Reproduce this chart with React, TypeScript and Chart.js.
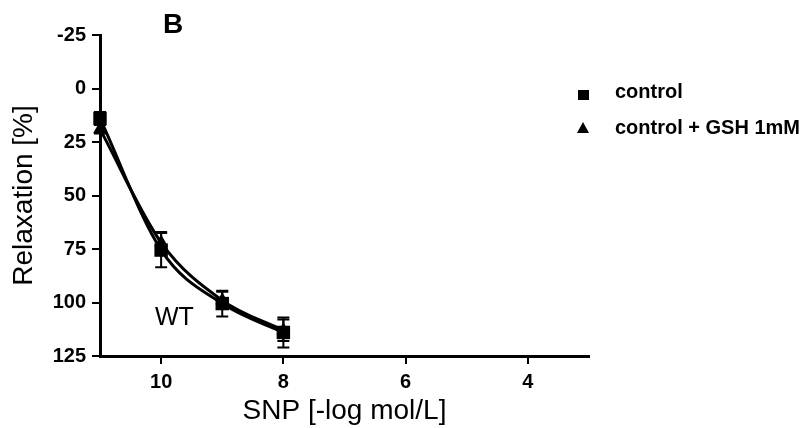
import React, { useEffect, useRef } from "react";
import { Chart, registerables } from "chart.js";

Chart.register(...registerables);

// ---- data ----
const doses = [11, 10, 9, 8];
const controlValues = [14, 75.5, 100.5, 114];
const controlErrors = [3, 8, 6, 7];
const gshValues = [19, 72, 99, 113];
const gshErrors = [2, 5, 4, 5];
const xTicks = [10, 8, 6, 4];
const yTicks = [-25, 0, 25, 50, 75, 100, 125];
const seriesLabels = ["control", "control + GSH 1mM"];
const panelLabel = "B";
const genotypeLabel = "WT";
const xTitle = "SNP [-log mol/L]";
const yTitle = "Relaxation [%]";

const FONT = "'Liberation Sans', Arial, sans-serif";

const errorBarPlugin = {
  id: "errorBars",
  afterDatasetsDraw(chart: any) {
    const ctx = chart.ctx;
    const xs = chart.scales.x;
    const ys = chart.scales.y;
    const list = [...chart.data.datasets].reverse();
    list.forEach((d: any) => {
      const errs = d.errors as number[] | undefined;
      if (!errs) return;
      ctx.save();
      ctx.strokeStyle = "#000";
      ctx.lineWidth = 2;
      d.data.forEach((p: any, j: number) => {
        const x = xs.getPixelForValue(p.x);
        const y1 = ys.getPixelForValue(p.y - errs[j]);
        const y2 = ys.getPixelForValue(p.y + errs[j]);
        ctx.beginPath();
        ctx.moveTo(x, y1);
        ctx.lineTo(x, y2);
        ctx.moveTo(x - 6, y1);
        ctx.lineTo(x + 6, y1);
        ctx.moveTo(x - 6, y2);
        ctx.lineTo(x + 6, y2);
        ctx.stroke();
      });
      ctx.restore();
    });
  },
};

const annotationPlugin = {
  id: "annotations",
  afterDraw(chart: any) {
    const ctx = chart.ctx;
    ctx.save();
    ctx.fillStyle = "#000";
    ctx.textBaseline = "alphabetic";
    ctx.textAlign = "left";
    // panel label
    ctx.font = `bold 28px ${FONT}`;
    ctx.fillText(panelLabel, 163, 33);
    // genotype label
    ctx.font = `25px ${FONT}`;
    ctx.fillText(genotypeLabel, 155, 325);
    // legend
    ctx.font = `bold 20px ${FONT}`;
    ctx.fillRect(578, 90, 11, 10);
    ctx.fillText(seriesLabels[0], 615, 98);
    ctx.beginPath();
    ctx.moveTo(583, 122);
    ctx.lineTo(589, 133);
    ctx.lineTo(577, 133);
    ctx.closePath();
    ctx.fill();
    ctx.fillText(seriesLabels[1], 615, 134);
    ctx.restore();
  },
};

export default function App() {
  const ref = useRef<HTMLCanvasElement | null>(null);

  useEffect(() => {
    if (!ref.current) return;
    const chart = new Chart(ref.current, {
      type: "scatter",
      data: {
        datasets: [
          {
            label: seriesLabels[0],
            data: doses.map((x, i) => ({ x, y: controlValues[i] })),
            errors: controlErrors,
            showLine: true,
            cubicInterpolationMode: "monotone",
            borderColor: "#000",
            borderWidth: 3,
            backgroundColor: "#000",
            pointStyle: "rect",
            pointRadius: 9.5,
            pointBorderWidth: 0,
            clip: false,
          } as any,
          {
            label: seriesLabels[1],
            data: doses.map((x, i) => ({ x, y: gshValues[i] })),
            errors: gshErrors,
            showLine: true,
            cubicInterpolationMode: "monotone",
            borderColor: "#000",
            borderWidth: 3,
            backgroundColor: "#000",
            pointStyle: "triangle",
            pointRadius: 8,
            pointBorderWidth: 0,
            clip: false,
          } as any,
        ],
      },
      options: {
        responsive: false,
        animation: false,
        layout: { padding: { top: 35, right: 223, left: 0, bottom: 0 } },
        plugins: {
          legend: { display: false },
          tooltip: { enabled: false },
        },
        scales: {
          x: {
            type: "linear",
            min: 3,
            max: 11,
            reverse: true,
            afterBuildTicks: (s: any) => {
              s.ticks = xTicks.map((v) => ({ value: v }));
            },
            afterFit: (s: any) => {
              s.height = 72;
            },
            border: { display: true, color: "#000", width: 3 },
            grid: {
              display: true,
              drawOnChartArea: false,
              drawTicks: true,
              tickLength: 8,
              color: "#000",
              lineWidth: 2,
            },
            ticks: {
              color: "#000",
              font: { family: FONT, size: 20, weight: "bold" },
              padding: 6,
              maxRotation: 0,
            },
            title: {
              display: true,
              text: xTitle,
              color: "#000",
              font: { family: FONT, size: 28 },
              padding: { top: 0, bottom: 0 },
            },
          },
          y: {
            type: "linear",
            min: -25,
            max: 125,
            reverse: true,
            afterBuildTicks: (s: any) => {
              s.ticks = yTicks.map((v) => ({ value: v }));
            },
            afterFit: (s: any) => {
              s.width = 100;
            },
            border: { display: true, color: "#000", width: 3 },
            grid: {
              display: true,
              drawOnChartArea: false,
              drawTicks: true,
              tickLength: 8,
              color: "#000",
              lineWidth: 2,
            },
            ticks: {
              color: "#000",
              font: { family: FONT, size: 20, weight: "bold" },
              padding: 6,
            },
            title: {
              display: true,
              text: yTitle,
              color: "#000",
              font: { family: FONT, size: 28 },
              padding: { top: 7, bottom: 0 },
            },
          },
        },
      },
      plugins: [errorBarPlugin, annotationPlugin],
    } as any);
    return () => chart.destroy();
  }, []);

  return (
    <div style={{ position: "fixed", left: 0, top: 0, width: 812, height: 428, background: "#fff" }}>
      <canvas ref={ref} width={812} height={428} style={{ width: 812, height: 428, display: "block" }} />
    </div>
  );
}
